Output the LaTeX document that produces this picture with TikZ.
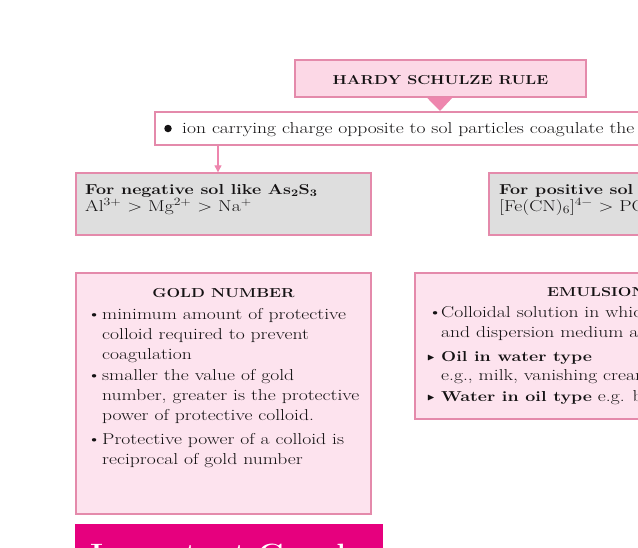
\documentclass[tikz,border=0pt]{standalone}
\usepackage{fontspec}
\setmainfont{Latin Modern Roman}[FakeStretch=1.24]
\usepackage{amssymb}
\usetikzlibrary{arrows.meta}
\definecolor{pborder}{HTML}{E48AAB}
\definecolor{hardyfill}{HTML}{FCD8E6}
\definecolor{goldfill}{HTML}{FDE3EE}
\definecolor{grayfill}{HTML}{DEDEDE}
\definecolor{pointer}{HTML}{EE86AE}
\definecolor{magentafill}{HTML}{E6007E}
\definecolor{txtcol}{HTML}{141213}
\tikzset{
  boxbase/.style={draw=pborder, line width=1.4pt, rectangle, inner sep=0pt},
  hardybox/.style={boxbase, fill=hardyfill},
  whitebox/.style={boxbase, fill=white},
  graybox/.style={boxbase, fill=grayfill},
  goldbox/.style={boxbase, fill=goldfill},
  txt/.style={anchor=base west, inner sep=0pt, text=txtcol, font=\fontsize{15.8}{20}\selectfont},
  btxt/.style={txt, font=\fontsize{14.4}{20}\selectfont\bfseries},
  ttl/.style={anchor=base, inner sep=0pt, text=txtcol, font=\fontsize{13}{16}\selectfont\bfseries},
  arr/.style={draw=pointer, line width=1.2pt, -{Triangle[width=7pt,length=7pt]}},
}
\newcommand{\tri}{\raisebox{1pt}{\fontsize{10}{10}\selectfont$\blacktriangleright$}}
\begin{document}
\begin{tikzpicture}[x=1pt,y=-1pt]
\useasboundingbox (0,0) rectangle (638,547);
\clip (0,0) rectangle (638,547);
\fill[white] (0,0) rectangle (638,547);

% Hardy Schulze
\node[hardybox, minimum width=291pt, minimum height=37pt] (hardy) at (440.5,78.5) {};
\node[ttl] (hardyt) at (440.5,84) {HARDY SCHULZE RULE};
\node[whitebox, minimum width=560pt, minimum height=33pt] (ion) at (435,128.5) {};
\fill[pointer] (hardy.south -| 427,0) -- (453,97) -- (440,111) -- cycle;
\node[circle, fill=txtcol, inner sep=0pt, minimum size=7.5pt] (ionb) at (168,128.5) {};
\node[txt] (iont) at (182,133.5) {ion carrying charge opposite to sol particles coagulate the sol};

% negative / positive sol
\node[graybox, minimum width=295pt, minimum height=62pt] (neg) at (223.5,204) {};
\node[graybox, minimum width=260pt, minimum height=62pt] (pos) at (619,204) {};
\coordinate (ax) at (218,0);
\draw[arr] (ion.south -| ax) -- (neg.north -| ax);
\node[btxt] (neg1) at (85,194) {For negative sol like As\textsubscript{2}S\textsubscript{3}};
\node[txt] (neg2) at (85,211) {Al\textsuperscript{3+} > Mg\textsuperscript{2+} > Na\textsuperscript{+}};
\node[btxt] (pos1) at (499,194) {For positive sol like Fe(OH)\textsubscript{3}};
\node[txt] (pos2) at (499,211) {[Fe(CN)\textsubscript{6}]\textsuperscript{4−} > PO\textsubscript{4}\textsuperscript{3−} > SO\textsubscript{4}\textsuperscript{2−} > Cl\textsuperscript{−}};

% Gold number
\node[goldbox, minimum width=295pt, minimum height=241pt] (gold) at (223.5,393.5) {};
\node[ttl] (goldt) at (223.5,297) {GOLD NUMBER};
\node[txt] (g1b) at (87,319) {\textbullet};
\node[txt] (g1) at (102,319) {minimum amount of protective};
\node[txt] (g2) at (102,339) {colloid required to prevent};
\node[txt] (g3) at (102,359) {coagulation};
\node[txt] (g4b) at (87,380) {\textbullet};
\node[txt] (g4) at (102,380) {smaller the value of gold};
\node[txt] (g5) at (102,400) {number, greater is the protective};
\node[txt] (g6) at (102,420) {power of protective colloid.};
\node[txt] (g7b) at (87,444) {\textbullet};
\node[txt] (g7) at (102,444) {Protective power of a colloid is};
\node[txt] (g8) at (102,464) {reciprocal of gold number};

% Emulsion
\node[goldbox, minimum width=300pt, minimum height=146pt] (emul) at (565,346) {};
\node[ttl, anchor=base west] (emult) at (547,296) {EMULSION};
\node[txt] (e1b) at (428,317) {\textbullet};
\node[txt] (e1) at (441,317) {Colloidal solution in which both dispersed phase};
\node[txt] (e2) at (441,337) {and dispersion medium are liquids};
\node[txt] (e3b) at (427,361) {\tri};
\node[btxt] (e3) at (441,361) {Oil in water type};
\node[txt] (e4) at (441,380) {e.g., milk, vanishing cream};
\node[txt] (e5b) at (427,401) {\tri};
\node[txt] (e5) at (441,401) {{\fontsize{14.4}{20}\selectfont\bfseries Water in oil type} e.g. butter, cold cream};

% Important graphs
\node[rectangle, fill=magentafill, minimum width=308pt, minimum height=50pt, inner sep=0pt] (imp) at (229,549) {};
\node[anchor=base west, inner sep=0pt, text=white, font=\fontsize{25}{30}\selectfont\bfseries] (impt) at (90,561) {Important Graphs};
\end{tikzpicture}
\end{document}
